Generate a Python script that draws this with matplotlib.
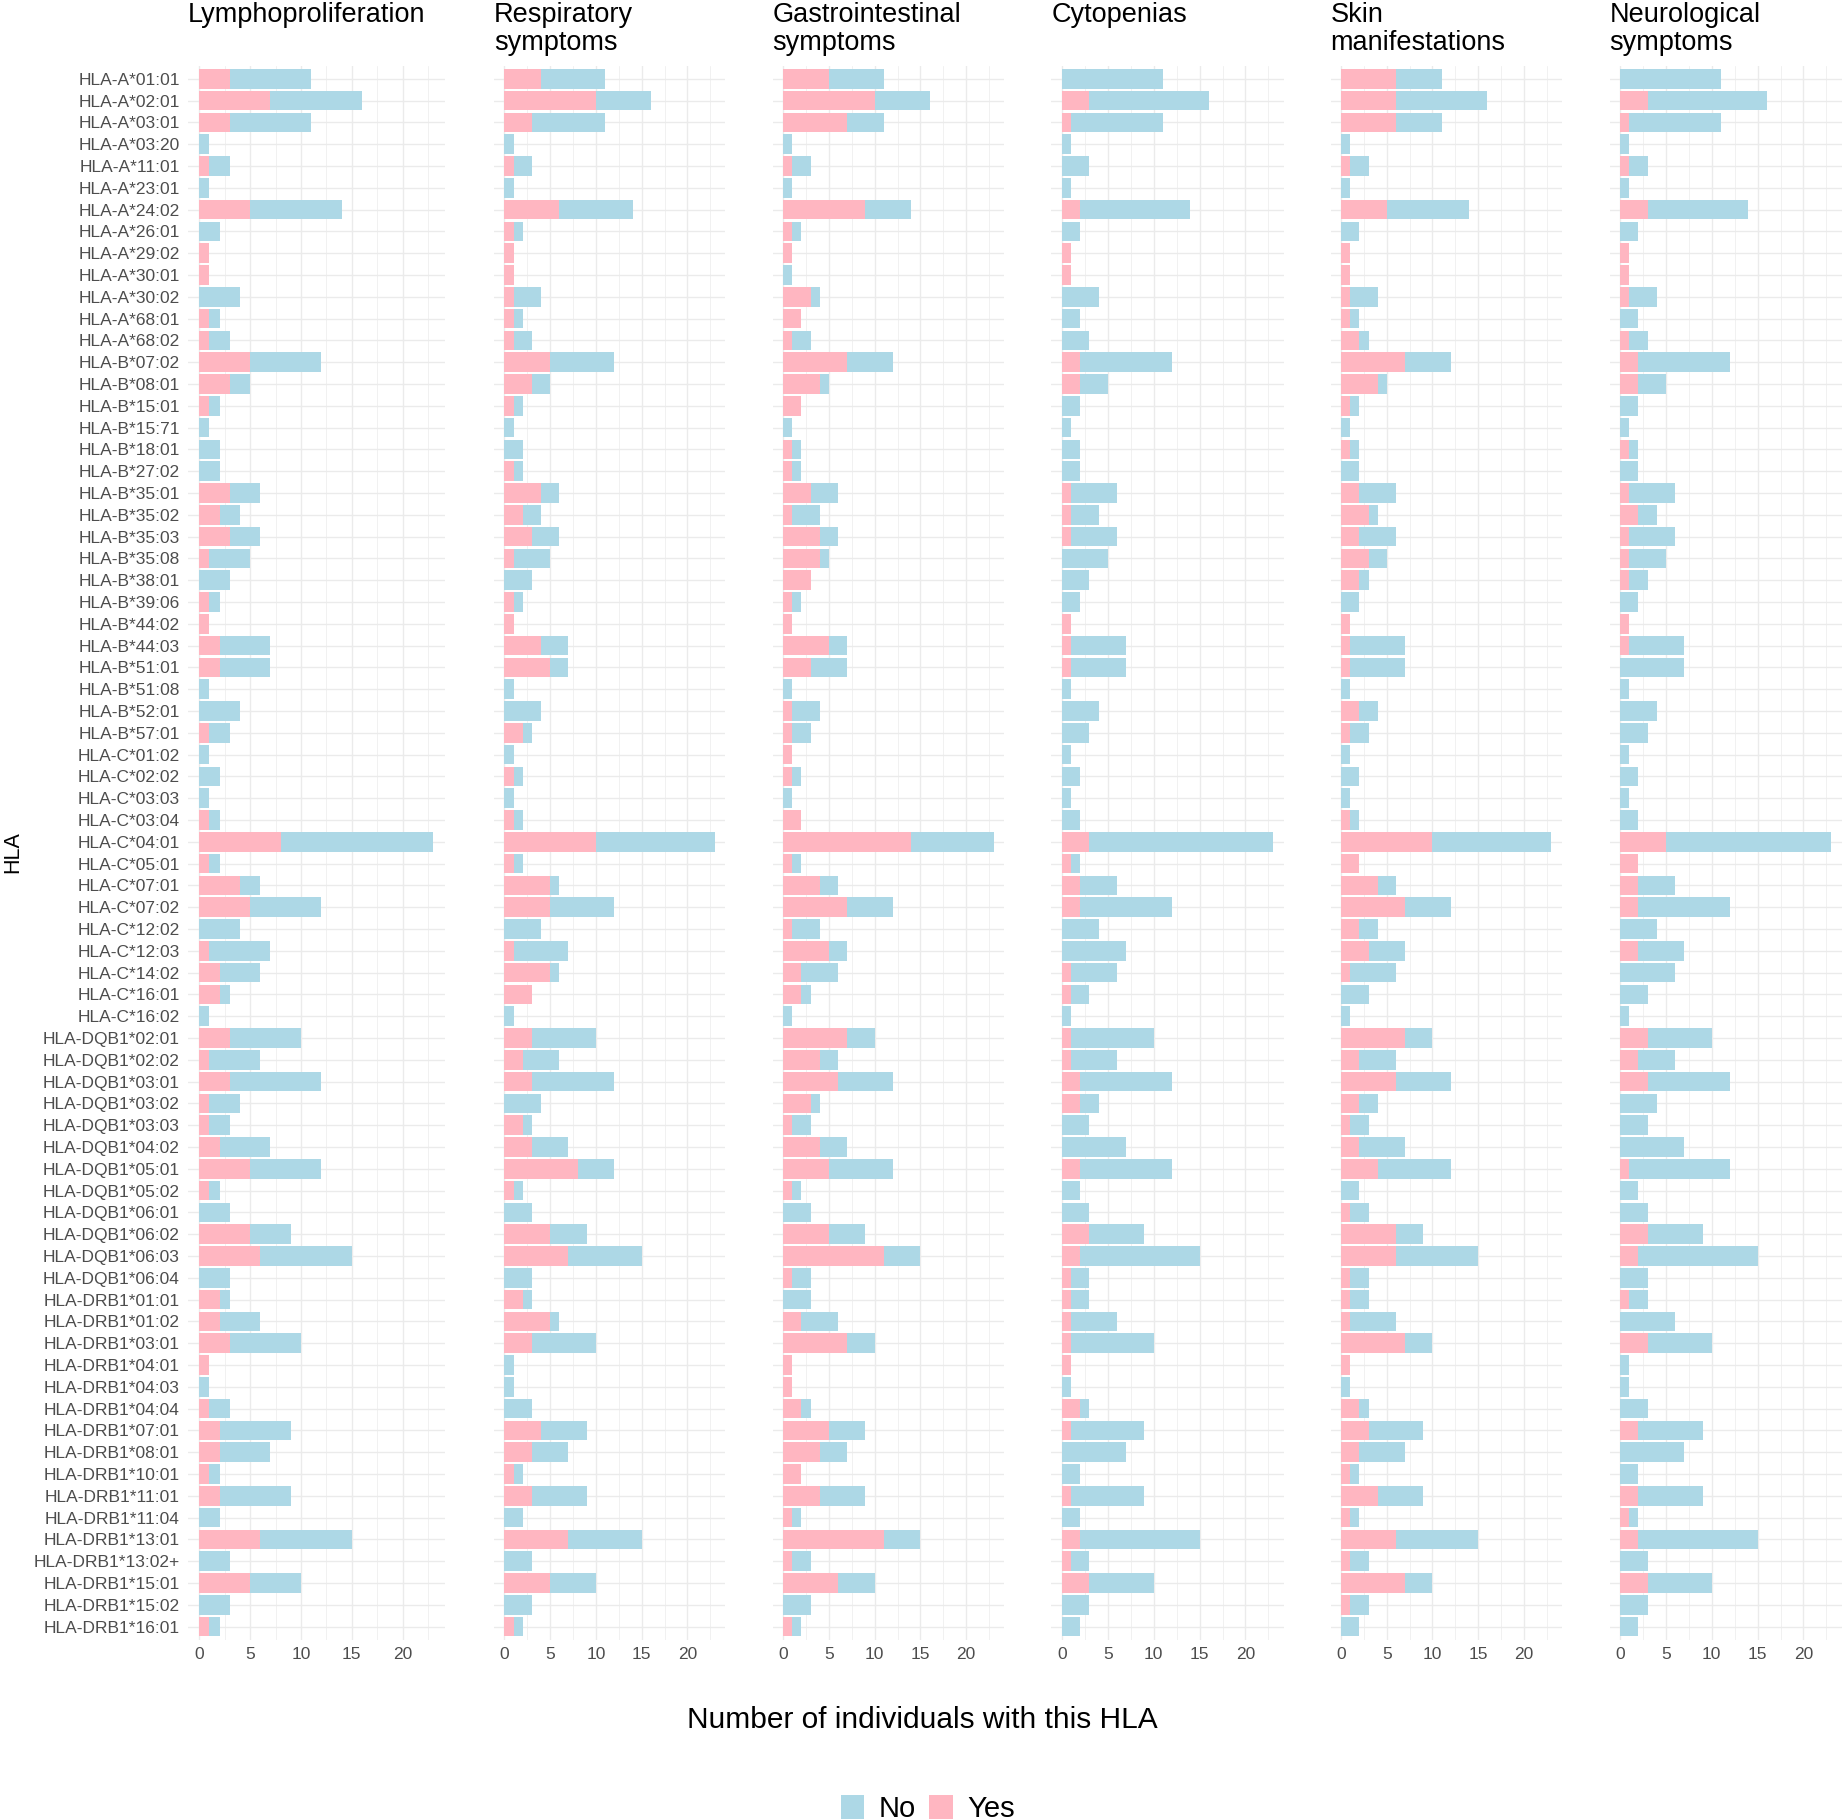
import matplotlib.pyplot as plt
from matplotlib.patches import Patch
import numpy as np

plt.rcParams['font.family'] = ['Liberation Sans', 'DejaVu Sans']

hla = [
    "HLA-A*01:01", "HLA-A*02:01", "HLA-A*03:01", "HLA-A*03:20", "HLA-A*11:01", "HLA-A*23:01",
    "HLA-A*24:02", "HLA-A*26:01", "HLA-A*29:02", "HLA-A*30:01", "HLA-A*30:02", "HLA-A*68:01",
    "HLA-A*68:02", "HLA-B*07:02", "HLA-B*08:01", "HLA-B*15:01", "HLA-B*15:71", "HLA-B*18:01",
    "HLA-B*27:02", "HLA-B*35:01", "HLA-B*35:02", "HLA-B*35:03", "HLA-B*35:08", "HLA-B*38:01",
    "HLA-B*39:06", "HLA-B*44:02", "HLA-B*44:03", "HLA-B*51:01", "HLA-B*51:08", "HLA-B*52:01",
    "HLA-B*57:01", "HLA-C*01:02", "HLA-C*02:02", "HLA-C*03:03", "HLA-C*03:04", "HLA-C*04:01",
    "HLA-C*05:01", "HLA-C*07:01", "HLA-C*07:02", "HLA-C*12:02", "HLA-C*12:03", "HLA-C*14:02",
    "HLA-C*16:01", "HLA-C*16:02", "HLA-DQB1*02:01", "HLA-DQB1*02:02", "HLA-DQB1*03:01",
    "HLA-DQB1*03:02", "HLA-DQB1*03:03", "HLA-DQB1*04:02", "HLA-DQB1*05:01", "HLA-DQB1*05:02",
    "HLA-DQB1*06:01", "HLA-DQB1*06:02", "HLA-DQB1*06:03", "HLA-DQB1*06:04", "HLA-DRB1*01:01",
    "HLA-DRB1*01:02", "HLA-DRB1*03:01", "HLA-DRB1*04:01", "HLA-DRB1*04:03", "HLA-DRB1*04:04",
    "HLA-DRB1*07:01", "HLA-DRB1*08:01", "HLA-DRB1*10:01", "HLA-DRB1*11:01", "HLA-DRB1*11:04",
    "HLA-DRB1*13:01", "HLA-DRB1*13:02+", "HLA-DRB1*15:01", "HLA-DRB1*15:02", "HLA-DRB1*16:01",
]

# number of individuals carrying each HLA (Yes + No)
totals = [11, 16, 11, 1, 3, 1, 14, 2, 1, 1, 4, 2, 3, 12, 5, 2, 1, 2, 2, 6, 4, 6, 5, 3,
          2, 1, 7, 7, 1, 4, 3, 1, 2, 1, 2, 23, 2, 6, 12, 4, 7, 6, 3, 1, 10, 6, 12, 4,
          3, 7, 12, 2, 3, 9, 15, 3, 3, 6, 10, 1, 1, 3, 9, 7, 2, 9, 2, 15, 3, 10, 3, 2]

panel_titles = ["Lymphoproliferation", "Respiratory\nsymptoms", "Gastrointestinal\nsymptoms",
                "Cytopenias", "Skin\nmanifestations", "Neurological\nsymptoms"]

# individuals with the symptom ("Yes") per HLA
yes_lympho = [3, 7, 3, 0, 1, 0, 5, 0, 1, 1, 0, 1, 1, 5, 3, 1, 0, 0, 0, 3, 2, 3, 1, 0,
              1, 1, 2, 2, 0, 0, 1, 0, 0, 0, 1, 8, 1, 4, 5, 0, 1, 2, 2, 0, 3, 1, 3, 1,
              1, 2, 5, 1, 0, 5, 6, 0, 2, 2, 3, 1, 0, 1, 2, 2, 1, 2, 0, 6, 0, 5, 0, 1]
yes_resp = [4, 10, 3, 0, 1, 0, 6, 1, 1, 1, 1, 1, 1, 5, 3, 1, 0, 0, 1, 4, 2, 3, 1, 0,
            1, 1, 4, 5, 0, 0, 2, 0, 1, 0, 1, 10, 1, 5, 5, 0, 1, 5, 3, 0, 3, 2, 3, 0,
            2, 3, 8, 1, 0, 5, 7, 0, 2, 5, 3, 0, 0, 0, 4, 3, 1, 3, 0, 7, 0, 5, 0, 1]
yes_gi = [5, 10, 7, 0, 1, 0, 9, 1, 1, 0, 3, 2, 1, 7, 4, 2, 0, 1, 1, 3, 1, 4, 4, 3,
          1, 1, 5, 3, 0, 1, 1, 1, 1, 0, 2, 14, 1, 4, 7, 1, 5, 2, 2, 0, 7, 4, 6, 3,
          1, 4, 5, 1, 0, 5, 11, 1, 0, 2, 7, 1, 1, 2, 5, 4, 2, 4, 1, 11, 1, 6, 0, 1]
yes_cyto = [0, 3, 1, 0, 0, 0, 2, 0, 1, 1, 0, 0, 0, 2, 2, 0, 0, 0, 0, 1, 1, 1, 0, 0,
            0, 1, 1, 1, 0, 0, 0, 0, 0, 0, 0, 3, 1, 2, 2, 0, 0, 1, 1, 0, 1, 1, 2, 2,
            0, 0, 2, 0, 0, 3, 2, 1, 1, 1, 1, 1, 0, 2, 1, 0, 0, 1, 0, 2, 1, 3, 0, 0]
yes_skin = [6, 6, 6, 0, 1, 0, 5, 0, 1, 1, 1, 1, 2, 7, 4, 1, 0, 1, 0, 2, 3, 2, 3, 2,
            0, 1, 1, 1, 0, 2, 1, 0, 0, 0, 1, 10, 2, 4, 7, 2, 3, 1, 0, 0, 7, 2, 6, 2,
            1, 2, 4, 0, 1, 6, 6, 1, 1, 1, 7, 1, 0, 2, 3, 2, 1, 4, 1, 6, 1, 7, 1, 0]
yes_neuro = [0, 3, 1, 0, 1, 0, 3, 0, 1, 1, 1, 0, 1, 2, 2, 0, 0, 1, 0, 1, 2, 1, 1, 1,
             0, 1, 1, 0, 0, 0, 0, 0, 0, 0, 0, 5, 2, 2, 2, 0, 2, 0, 0, 0, 3, 2, 3, 0,
             0, 0, 1, 0, 0, 3, 2, 0, 1, 0, 3, 0, 0, 0, 2, 0, 0, 2, 1, 2, 0, 3, 0, 0]

yes_all = [yes_lympho, yes_resp, yes_gi, yes_cyto, yes_skin, yes_neuro]

col_yes = "#FFB6C1"
col_no = "#ADD8E6"
grid_col = "#EBEBEB"
text_grey = "#4D4D4D"

W, H = 1844, 1820
fig = plt.figure(figsize=(W / 100, H / 100), dpi=100)

# panel extents in pixels (left, right); the first panel is a bit wider
panel_px = [(187.6, 444.9), (493.9, 725.4), (772.5, 1004.2),
            (1051.3, 1283.6), (1330.6, 1561.8), (1609.5, 1841.5)]
top_px, bottom_px = 65.7, 1639.6

y = np.arange(len(hla))
tot = np.array(totals)

for i, (title, yes) in enumerate(zip(panel_titles, yes_all)):
    l, r = panel_px[i]
    ax = fig.add_axes([l / W, 1 - bottom_px / H, (r - l) / W, (bottom_px - top_px) / H])
    yes = np.array(yes)
    no = tot - yes

    ax.barh(y, yes, height=0.9, color=col_yes, zorder=3)
    ax.barh(y, no, left=yes, height=0.9, color=col_no, zorder=3)

    ax.set_xlim(-1.15, 24.15)
    ax.set_ylim(len(hla) - 0.4, -0.6)

    ax.set_xticks([0, 5, 10, 15, 20])
    ax.set_xticks(np.arange(2.5, 24, 5), minor=True)
    ax.set_yticks(y)
    if i == 0:
        ax.set_yticklabels(hla, fontsize=12.5, color=text_grey)
    else:
        ax.set_yticklabels([])
    ax.tick_params(axis='x', labelsize=12.5, labelcolor=text_grey, length=0, pad=5)
    ax.tick_params(axis='y', length=0, pad=5.5)
    ax.tick_params(which='minor', length=0)

    ax.grid(True, which='major', color=grid_col, linewidth=1.0, zorder=0)
    ax.grid(True, which='minor', axis='x', color=grid_col, linewidth=0.5, zorder=0)
    ax.set_axisbelow(True)
    for s in ax.spines.values():
        s.set_visible(False)

    fig.text(l / W, 1 - 2 / H, title, ha='left', va='top', fontsize=19.5,
             linespacing=1.1, color='black')

fig.text(13 / W, 1 - 852 / H, "HLA", rotation=90, ha='center', va='center', fontsize=15.5)
fig.text(922 / W, 1 - 1720 / H, "Number of individuals with this HLA",
         ha='center', va='center', fontsize=21.5)

handles = [Patch(facecolor=col_no, edgecolor='none', label='No'),
           Patch(facecolor=col_yes, edgecolor='none', label='Yes')]
fig.legend(handles=handles, loc='center', bbox_to_anchor=(928 / W, 1 - 1809 / H),
           ncol=2, frameon=False, fontsize=21, handlelength=0.8, handleheight=0.9,
           handletextpad=0.5, columnspacing=0.45, borderpad=0, borderaxespad=0)

plt.savefig("out.png", dpi=100)
